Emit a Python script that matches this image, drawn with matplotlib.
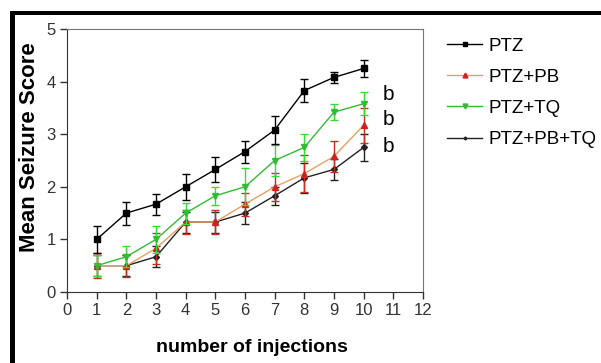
import numpy as np
import matplotlib
matplotlib.use('Agg')
import matplotlib.pyplot as plt
from matplotlib.patches import Rectangle
from matplotlib.lines import Line2D

plt.rcParams['font.family'] = ['Liberation Sans', 'DejaVu Sans']

injections = [1, 2, 3, 4, 5, 6, 7, 8, 9, 10]

ptz = [1.0, 1.5, 1.67, 2.0, 2.33, 2.67, 3.08, 3.83, 4.08, 4.25]
ptz_err = [0.26, 0.22, 0.2, 0.25, 0.23, 0.21, 0.27, 0.21, 0.1, 0.17]

ptz_pb = [0.5, 0.5, 0.83, 1.33, 1.33, 1.67, 2.0, 2.25, 2.58, 3.17]
ptz_pb_err = [0.24, 0.21, 0.3, 0.22, 0.22, 0.22, 0.27, 0.35, 0.3, 0.33]

ptz_tq = [0.5, 0.67, 1.0, 1.5, 1.83, 2.0, 2.5, 2.75, 3.42, 3.58]
ptz_tq_err = [0.2, 0.2, 0.25, 0.2, 0.17, 0.35, 0.3, 0.25, 0.15, 0.22]

ptz_pb_tq = [0.5, 0.5, 0.67, 1.33, 1.33, 1.5, 1.83, 2.17, 2.33, 2.75]
ptz_pb_tq_err = [0.2, 0.2, 0.2, 0.2, 0.2, 0.21, 0.17, 0.28, 0.2, 0.25]

labels = ['PTZ', 'PTZ+PB', 'PTZ+TQ', 'PTZ+PB+TQ']
sig_y = [3.76, 3.27, 2.76]

fig = plt.figure(figsize=(6.01, 3.63), dpi=100)
ax = fig.add_axes([67/601, 71/363, 356/601, 263/363])

# (color, errorbar color, marker, marker face, size)
styles = [
    ('black', 'black', 's', 'black', 5),
    ('#e8a060', '#c03020', '^', '#d02020', 5),
    ('#33bb33', '#33dd33', 'v', '#33bb33', 5),
    ('#222222', '#222222', 'D', '#222222', 3),
]
series = [(ptz, ptz_err), (ptz_pb, ptz_pb_err), (ptz_tq, ptz_tq_err),
          (ptz_pb_tq, ptz_pb_tq_err)]
zs = [6, 4, 5, 3]

handles = []
for (vals, errs), (c, ec, m, mf, ms), z, lab in zip(series, styles, zs, labels):
    ax.errorbar(injections, vals, yerr=errs, color=c, ecolor=ec, marker=m,
                markersize=ms, mfc=mf, mec=mf, lw=1, elinewidth=1, capsize=3,
                zorder=z)
    handles.append(Line2D([], [], color=c, marker=m, markersize=ms - 1.5,
                          mfc=mf, mec=mf, lw=1, label=lab))

for y in sig_y:
    ax.text(10.85, y, 'b', fontsize=15, ha='center', va='center')

ax.set_xlim(0, 12)
ax.set_ylim(0, 5)
ax.set_xticks(range(0, 13))
ax.set_yticks(range(0, 6))
ax.tick_params(labelsize=12, length=5, width=1, pad=3, colors='#333333')
for s in ['top', 'right']:
    ax.spines[s].set_color('#777777')
for s in ['left', 'bottom']:
    ax.spines[s].set_color('#333333')
ax.set_ylabel('Mean Seizure Score', fontsize=16, fontweight='bold')
ax.yaxis.set_label_coords(-0.076, 0.55)
ax.set_xlabel('number of injections', fontsize=14, fontweight='bold', va='top')
ax.xaxis.set_label_coords(0.52, -0.18)

fig.legend(handles=handles, loc='upper left', bbox_to_anchor=(0.744, 0.897),
           frameon=False, fontsize=13.5, handlelength=1.87, handletextpad=0.32,
           labelspacing=0.75, borderpad=0, borderaxespad=0)

# thick black frame on left and top
fig.add_artist(Rectangle((10/601, 0), 5/601, 352/363, transform=fig.transFigure,
                         color='black', lw=0))
fig.add_artist(Rectangle((10/601, 348/363), 591/601, 4/363, transform=fig.transFigure,
                         color='black', lw=0))

fig.savefig('out.png', dpi=100)
